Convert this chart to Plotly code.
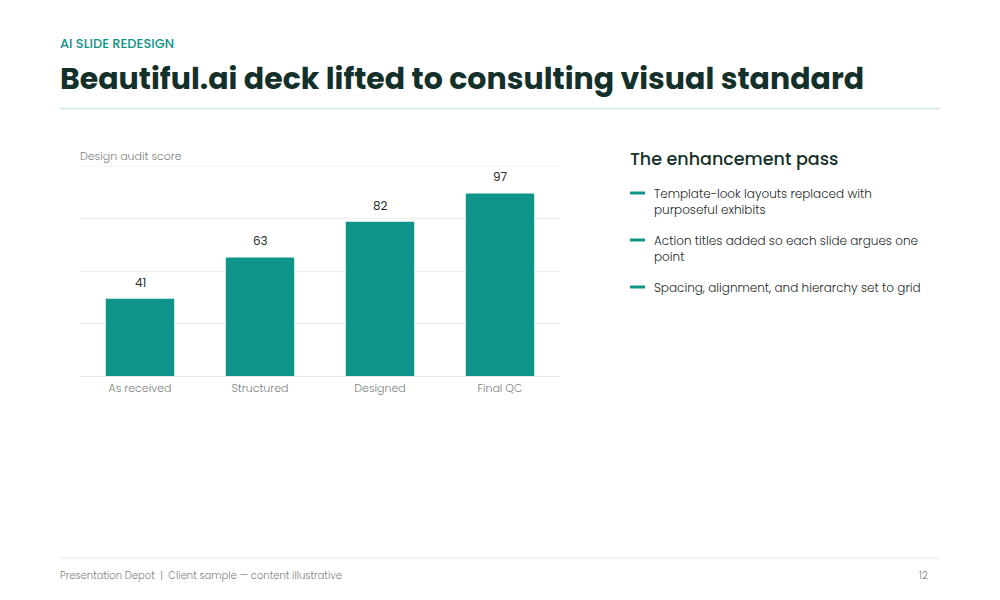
import plotly.graph_objects as go

categories = ["As received", "Structured", "Designed", "Final QC"]
scores = [41, 63, 82, 97]
bullets = [
    "Template-look layouts replaced with<br>purposeful exhibits",
    "Action titles added so each slide argues one<br>point",
    "Spacing, alignment, and hierarchy set to grid",
]

W, H = 1000, 600
L, R, T, B = 80, 560, 166, 376
FONT = "Poppins, Inter, sans-serif"
TEAL = "#0e9488"
DARK = "#14302a"
GRAY = "#7a7f7d"

ymax = max(scores) * 1.15

def px(x):
    return (x - L) / (R - L)

def py(y):
    return (B - y) / (B - T)

fig = go.Figure()
fig.add_trace(go.Bar(
    x=categories, y=scores, marker=dict(color=TEAL, line=dict(width=0)),
    hoverinfo="skip", width=0.57,
))

ann = []
for c, v in zip(categories, scores):
    ann.append(dict(x=c, y=v, xref="x", yref="y", text=str(v), showarrow=False,
                    yanchor="bottom", yshift=6, font=dict(family=FONT, size=12, color="#2a2f2d")))

ann += [
    dict(x=px(58), y=py(43), xref="paper", yref="paper", text="AI SLIDE REDESIGN",
         showarrow=False, xanchor="left", yanchor="middle",
         font=dict(family=FONT, size=13, color=TEAL, weight=500)),
    dict(x=px(58), y=py(79), xref="paper", yref="paper",
         text="<b>Beautiful.ai deck lifted to consulting visual standard</b>",
         showarrow=False, xanchor="left", yanchor="middle",
         font=dict(family=FONT, size=30, color=DARK)),
    dict(x=px(78), y=py(156), xref="paper", yref="paper", text="Design audit score",
         showarrow=False, xanchor="left", yanchor="middle",
         font=dict(family=FONT, size=11, color=GRAY, weight=300)),
    dict(x=px(628), y=py(159), xref="paper", yref="paper", text="The enhancement pass",
         showarrow=False, xanchor="left", yanchor="middle",
         font=dict(family=FONT, size=17.5, color=DARK, weight=500)),
    dict(x=px(58), y=py(575), xref="paper", yref="paper",
         text="Presentation Depot  |  Client sample — content illustrative",
         showarrow=False, xanchor="left", yanchor="middle",
         font=dict(family=FONT, size=10, color=GRAY, weight=300)),
    dict(x=px(930), y=py(575), xref="paper", yref="paper", text="12",
         showarrow=False, xanchor="right", yanchor="middle",
         font=dict(family=FONT, size=10, color=GRAY, weight=300)),
]

shapes = [
    dict(type="line", xref="paper", yref="paper", x0=px(60), x1=px(940), y0=py(108.5), y1=py(108.5),
         line=dict(color="#cfe9e3", width=1.5)),
    dict(type="line", xref="paper", yref="paper", x0=px(60), x1=px(940), y0=py(558), y1=py(558),
         line=dict(color="#dcefeb", width=1)),
    dict(type="line", xref="paper", yref="y", x0=0, x1=1, y0=ymax, y1=ymax,
         line=dict(color="#e9eeec", width=1), layer="below"),
]

bullet_tops = [183, 230, 277]
for btxt, top in zip(bullets, bullet_tops):
    ann.append(dict(x=px(652), y=py(top), xref="paper", yref="paper", text=btxt,
                    showarrow=False, xanchor="left", yanchor="top", align="left",
                    font=dict(family=FONT, size=12, color="#1e2a27", weight=300)))
    shapes.append(dict(type="rect", xref="paper", yref="paper",
                       x0=px(630), x1=px(645), y0=py(top + 8.5), y1=py(top + 11.5),
                       fillcolor=TEAL, line=dict(width=0)))

fig.update_layout(
    width=W, height=H, margin=dict(l=L, r=W - R, t=T, b=H - B),
    paper_bgcolor="white", plot_bgcolor="white", showlegend=False,
    annotations=ann, shapes=shapes, bargap=0.43,
    font=dict(family=FONT),
    xaxis=dict(showgrid=False, showline=False, ticks="", zeroline=False,
               tickfont=dict(family=FONT, size=11, color=GRAY, weight=300),
               ticklabelstandoff=4, fixedrange=True),
    yaxis=dict(range=[0, ymax], tickvals=[ymax * i / 4 for i in range(5)],
               showticklabels=False, showgrid=True, gridcolor="#e9eeec", gridwidth=1,
               zeroline=True, zerolinecolor="#e4eae8", zerolinewidth=1, showline=False,
               ticks="", fixedrange=True),
)

fig.write_html("out.html", config={"displayModeBar": False})
